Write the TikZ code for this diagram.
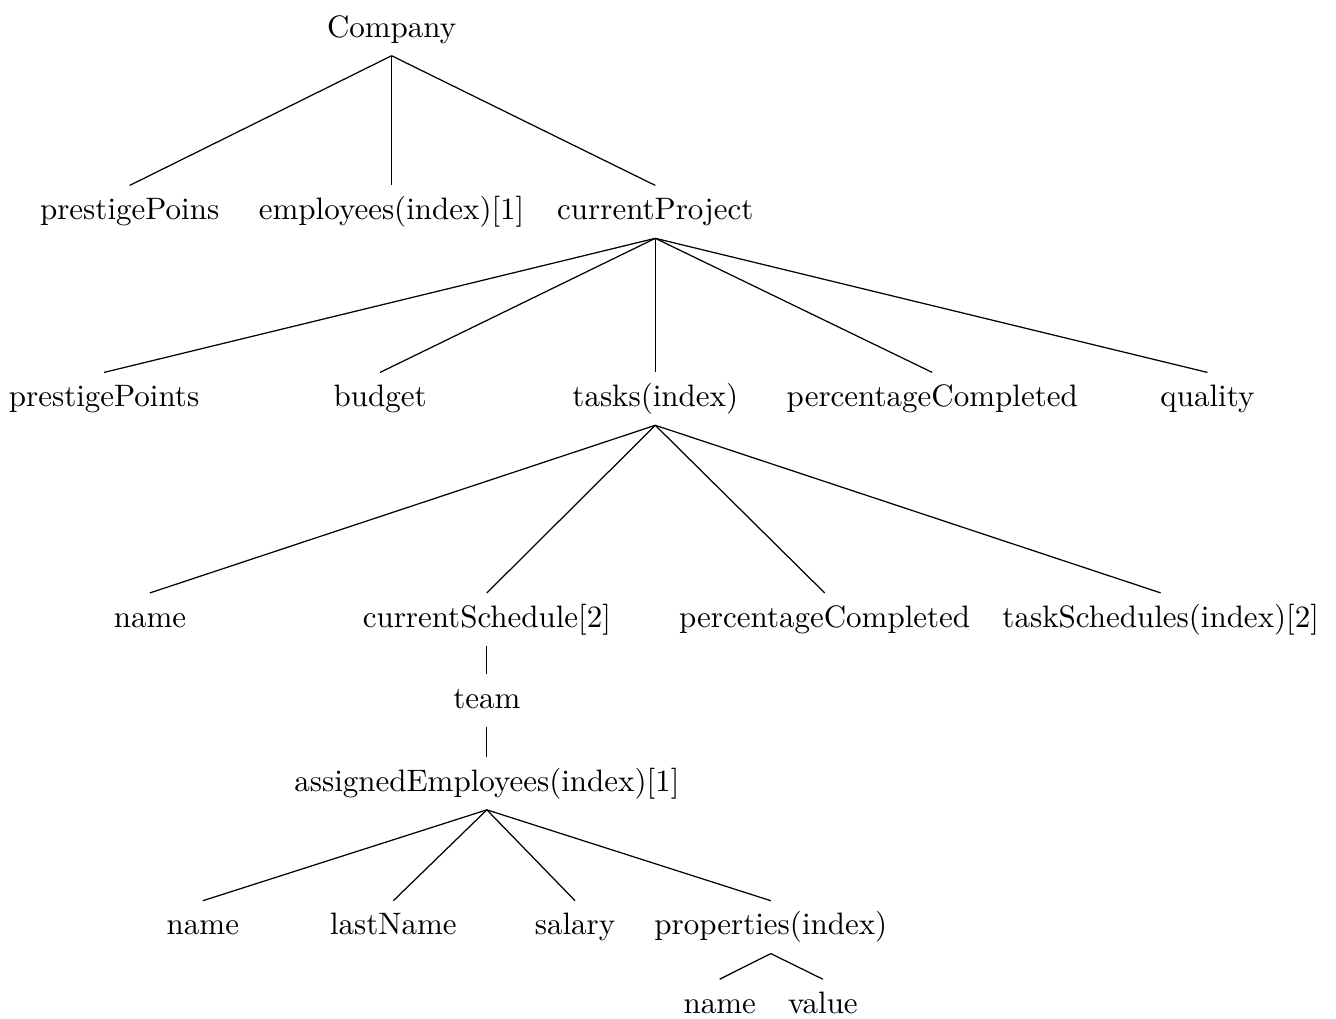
\documentclass[tikz,border=0pt]{standalone}
\usepackage{amsmath,amssymb}
\usepackage{xcolor}
\usepackage{tikz}
\usetikzlibrary{positioning, calc}

\begin{document}
\begin{tikzpicture}[
    lbl/.style={anchor=base, inner sep=3.33pt, text height=7.5pt, text depth=2.5pt},
    branch/.style={draw, line width=0.4pt},
]

\useasboundingbox (0,0) rectangle (15.148,-11.553);

% Root and first level
\node[lbl] (company) at (4.44,-0.42) {Company};
\node[lbl] (prestigePoins) at (1.47,-2.49) {prestigePoins};
\node[lbl] (employees) at (4.44,-2.49) {employees(index)[1]};
\node[lbl] (project) at (7.43,-2.49) {currentProject};

% Project fields
\node[lbl] (prestigePoints) at (1.18,-4.61) {prestigePoints};
\node[lbl] (budget) at (4.31,-4.61) {budget};
\node[lbl] (tasks) at (7.43,-4.61) {tasks(index)};
\node[lbl] (pctProject) at (10.57,-4.61) {percentageCompleted};
\node[lbl] (quality) at (13.69,-4.61) {quality};

% Task fields
\node[lbl] (taskName) at (1.70,-7.11) {name};
\node[lbl] (schedule) at (5.52,-7.11) {currentSchedule[2]};
\node[lbl] (pctTask) at (9.35,-7.11) {percentageCompleted};
\node[lbl] (taskSchedules) at (13.16,-7.11) {taskSchedules(index)[2]};

% Schedule chain
\node[lbl] (team) at (5.52,-8.03) {team};
\node[lbl] (assigned) at (5.52,-8.97) {assignedEmployees(index)[1]};

% Employee fields
\node[lbl] (empName) at (2.30,-10.60) {name};
\node[lbl] (lastName) at (4.46,-10.60) {lastName};
\node[lbl] (salary) at (6.52,-10.60) {salary};
\node[lbl] (properties) at (8.74,-10.60) {properties(index)};

% Property fields
\node[lbl] (propName) at (8.16,-11.49) {name};
\node[lbl] (propValue) at (9.33,-11.49) {value};

% Branches
\foreach \c in {prestigePoins, employees, project}
    \draw[branch] (company.south) -- (\c.north);
\foreach \c in {prestigePoints, budget, tasks, pctProject, quality}
    \draw[branch] (project.south) -- (\c.north);
\foreach \c in {taskName, schedule, pctTask, taskSchedules}
    \draw[branch] (tasks.south) -- (\c.north);
\draw[branch] (schedule.south) -- (team.north);
\draw[branch] (team.south) -- (assigned.north);
\foreach \c in {empName, lastName, salary, properties}
    \draw[branch] (assigned.south) -- (\c.north);
\foreach \c in {propName, propValue}
    \draw[branch] (properties.south) -- (\c.north);

\end{tikzpicture}
\end{document}
